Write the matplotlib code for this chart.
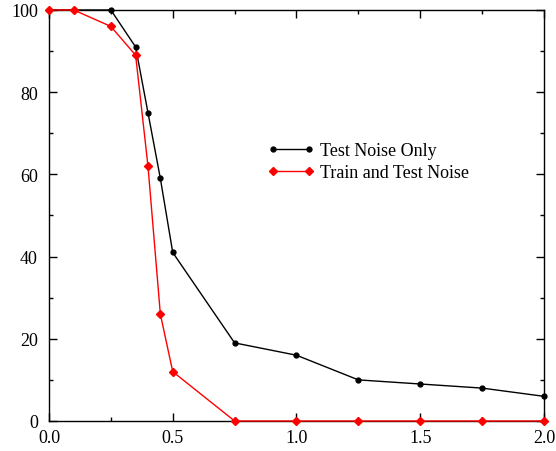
import matplotlib
matplotlib.use("Agg")
import matplotlib.pyplot as plt
from matplotlib.ticker import MultipleLocator

# noise level on the x axis
NOISE = [0.0, 0.1, 0.25, 0.35, 0.4, 0.45, 0.5, 0.75, 1.0, 1.25, 1.5, 1.75, 2.0]

# accuracy-like values
TEST_ONLY = [100, 100, 100, 91, 75, 59, 41, 19, 16, 10, 9, 8, 6]
TRAIN_TEST = [100, 100, 96, 89, 62, 26, 12, 0, 0, 0, 0, 0, 0]

LABELS = ["Test Noise Only", "Train and Test Noise"]

plt.rcParams['font.family'] = ['Liberation Serif', 'DejaVu Serif']
plt.rcParams['font.size'] = 13

fig = plt.figure(figsize=(5.56, 4.52), dpi=100)
ax = fig.add_axes([0.0881, 0.0664, 0.8903, 0.9093])

ax.plot(NOISE, TEST_ONLY, color='black', marker='o', markersize=3.5,
        linewidth=1, label=LABELS[0], clip_on=False, zorder=3)
ax.plot(NOISE, TRAIN_TEST, color='red', marker='D', markersize=4,
        linewidth=1, label=LABELS[1], clip_on=False, zorder=4)

ax.set_xlim(0, 2.0)
ax.set_ylim(0, 100)
ax.xaxis.set_major_locator(MultipleLocator(0.5))
ax.xaxis.set_minor_locator(MultipleLocator(0.25))
ax.yaxis.set_major_locator(MultipleLocator(20))
ax.yaxis.set_minor_locator(MultipleLocator(10))
ax.xaxis.set_major_formatter(plt.FormatStrFormatter('%.1f'))
ax.tick_params(which='both', direction='in', top=True, right=True, labelsize=13)
ax.tick_params(which='major', length=6, width=1)
ax.tick_params(axis='x', which='major', pad=6)
ax.tick_params(axis='y', which='major', pad=8)
ax.tick_params(which='minor', length=3, width=1)
for s in ax.spines.values():
    s.set_linewidth(1)

ax.legend(loc='upper left', bbox_to_anchor=(0.424, 0.70), frameon=False,
          numpoints=2, handlelength=2.6, handletextpad=0.3, labelspacing=0.25,
          borderpad=0, fontsize=13)

fig.savefig("out.png", dpi=100)
